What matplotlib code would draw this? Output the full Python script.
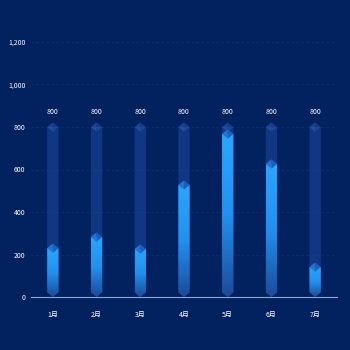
import numpy as np
import matplotlib.pyplot as plt
from matplotlib.patches import Polygon
from matplotlib.ticker import FuncFormatter
from matplotlib.colors import LinearSegmentedColormap

months = ['1月', '2月', '3月', '4月', '5月', '6月', '7月']
values = [230, 282, 226, 527, 767, 626, 141]
maxvals = [800, 800, 800, 800, 800, 800, 800]

plt.rcParams['font.family'] = ['Noto Sans CJK SC', 'DejaVu Sans']

bg = '#02215f'
fig = plt.figure(figsize=(3.5, 3.5), dpi=100, facecolor=bg)
ax = fig.add_axes([31 / 350, 53 / 350, 306 / 350, 255 / 350], facecolor=bg)

w = 0.26   # bar width (data units)
d = 22     # half height of the diamond cap

# gradient for the value bars
grad = np.linspace(0, 1, 256).reshape(-1, 1)
cmap = LinearSegmentedColormap.from_list('b', ['#1b4a9a', '#2290ee', '#29a6ff'])

for i, (v, m) in enumerate(zip(values, maxvals)):
    # background bar
    body = Polygon([(i - w / 2, d), (i, 0), (i + w / 2, d), (i + w / 2, m), (i - w / 2, m)],
                   closed=True, fc='#2352ad', ec='none', alpha=0.45, zorder=2)
    ax.add_patch(body)
    ax.add_patch(Polygon([(i - w / 2, m), (i, m + d), (i, m - d)], fc='#2a5cb8', ec='none',
                         alpha=0.6, zorder=2))
    ax.add_patch(Polygon([(i + w / 2, m), (i, m + d), (i, m - d)], fc='#234fa3', ec='none',
                         alpha=0.6, zorder=2))
    ax.text(i, m + 50, str(m), ha='center', va='bottom', color='white', fontsize=5, zorder=5)

    # value bar with gradient
    vb = Polygon([(i - w / 2, d), (i, 0), (i + w / 2, d), (i + w / 2, v), (i - w / 2, v)],
                 closed=True, fc='none', ec='none', zorder=3)
    ax.add_patch(vb)
    im = ax.imshow(grad, extent=[i - w / 2, i + w / 2, 0, v], origin='lower', cmap=cmap,
                   aspect='auto', zorder=3)
    im.set_clip_path(vb)
    ax.add_patch(Polygon([(i - w / 2, v), (i, v + d), (i, v - d)], fc='#2273d6', ec='none', zorder=4))
    ax.add_patch(Polygon([(i + w / 2, v), (i, v + d), (i, v - d)], fc='#1b5fbf', ec='none', zorder=4))

ax.set_xlim(-0.5, 6.5)
ax.set_ylim(0, 1200)
ax.set_xticks(range(len(months)))
ax.set_xticklabels(months)
ax.set_yticks(range(0, 1201, 200))
ax.yaxis.set_major_formatter(FuncFormatter(lambda x, p: f'{int(x):,}'))
ax.tick_params(axis='both', colors='white', labelsize=5, length=0)
ax.tick_params(axis='x', pad=10)
ax.tick_params(axis='y', pad=4)

ax.grid(axis='y', color='#0f2f74', linestyle=(0, (3, 3)), linewidth=0.6, zorder=0)
ax.set_axisbelow(True)
for s in ['top', 'right', 'left']:
    ax.spines[s].set_visible(False)
ax.spines['bottom'].set_color('#8ea6d8')
ax.spines['bottom'].set_linewidth(0.8)

fig.savefig('out.png', dpi=100, facecolor=bg)
